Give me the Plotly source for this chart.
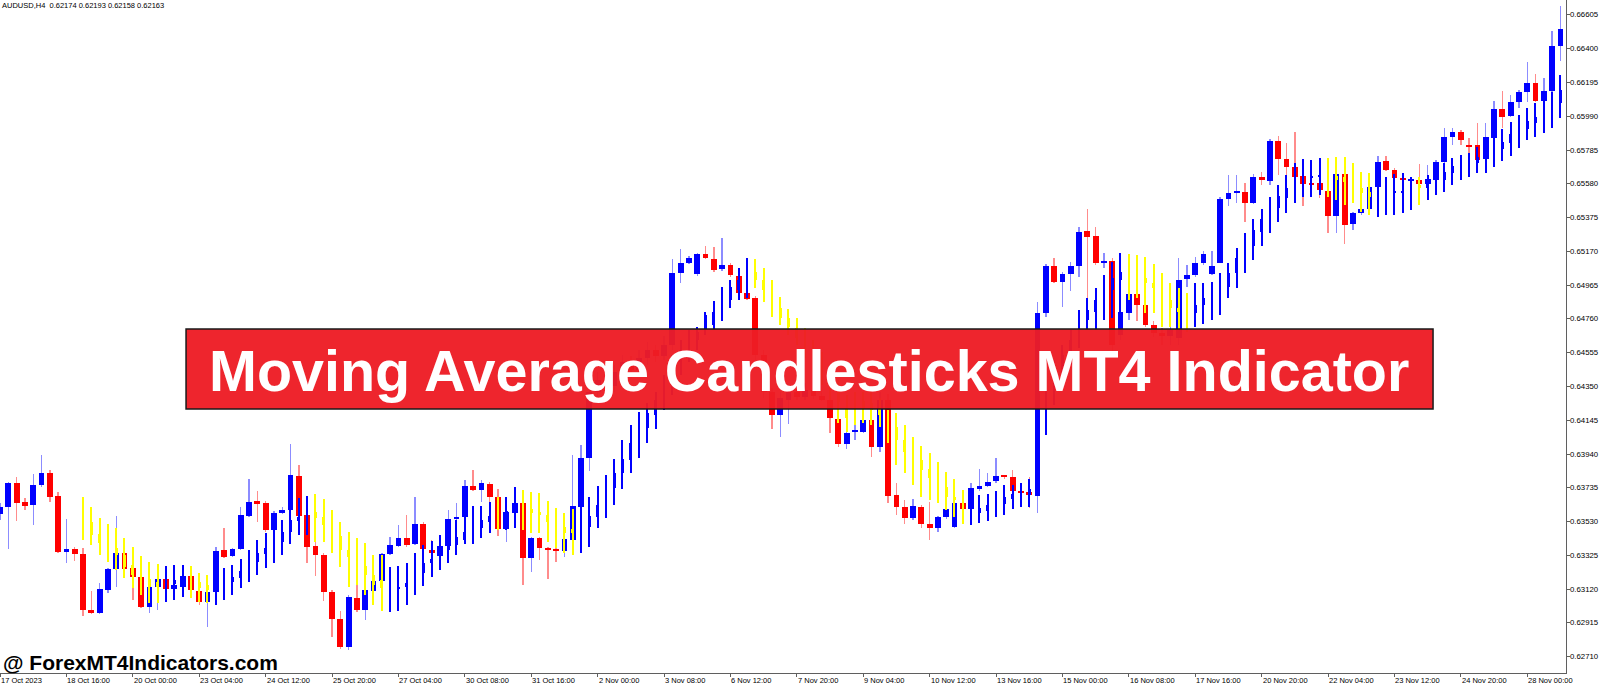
import plotly.graph_objects as go

# AUDUSD H4, one value per bar (bar index 0 = left edge of the chart)
price_open = [
    0.63576, 0.63619, 0.63765, 0.63649, 0.63631, 0.63753, 0.63825, 0.63686, 0.63346, 0.63364,
    0.63334, 0.62993, 0.62975, 0.63115, 0.63243, 0.63340, 0.63249, 0.63194, 0.63012, 0.63133,
    0.63182, 0.63121, 0.63133, 0.63200, 0.63109, 0.63042, 0.63103, 0.63358, 0.63321, 0.63364,
    0.63564, 0.63655, 0.63643, 0.63479, 0.63582, 0.63600, 0.63807, 0.63570, 0.63382, 0.63328,
    0.63103, 0.62939, 0.62769, 0.63067, 0.62993, 0.63109, 0.63170, 0.63334, 0.63382, 0.63430,
    0.63394, 0.63515, 0.63358, 0.63321, 0.63382, 0.63546, 0.63558, 0.63747, 0.63722, 0.63759,
    0.63680, 0.63485, 0.63582, 0.63643, 0.63309, 0.63430, 0.63370, 0.63364, 0.63352, 0.63418,
    0.63619, 0.63916, 0.64317, 0.64390, 0.64353, 0.64438, 0.64499, 0.64450, 0.64523, 0.64572,
    0.64536, 0.64602, 0.65039, 0.65100, 0.65033, 0.65155, 0.65124, 0.65064, 0.65088, 0.65021,
    0.64918, 0.64887, 0.64542, 0.64317, 0.64177, 0.64268, 0.64317, 0.64287, 0.64329, 0.64293,
    0.64268, 0.64153, 0.64001, 0.64074, 0.64074, 0.64147, 0.63983, 0.64268, 0.63692, 0.63619,
    0.63552, 0.63619, 0.63515, 0.63491, 0.63558, 0.63497, 0.63643, 0.63606, 0.63728, 0.63747,
    0.63777, 0.63807, 0.63801, 0.63716, 0.63710, 0.63686, 0.64796, 0.65082, 0.64985, 0.65033,
    0.65082, 0.65294, 0.65264, 0.65100, 0.65112, 0.64663, 0.64796, 0.64912, 0.64845, 0.64723,
    0.64675, 0.64656, 0.64644, 0.65003, 0.65027, 0.65100, 0.65033, 0.65100, 0.65489, 0.65525,
    0.65531, 0.65464, 0.65622, 0.65597, 0.65840, 0.65731, 0.65683, 0.65628, 0.65586, 0.65586,
    0.65537, 0.65385, 0.65640, 0.65336, 0.65403, 0.65427, 0.65561, 0.65719, 0.65664, 0.65616,
    0.65597, 0.65603, 0.65580, 0.65603, 0.65713, 0.65865, 0.65895, 0.65816, 0.65816, 0.65731,
    0.65858, 0.66034, 0.65992, 0.66077, 0.66139, 0.66194, 0.66083, 0.66145, 0.66418,
]
price_high = [
    0.63643, 0.63771, 0.63801, 0.63674, 0.63819, 0.63935, 0.63844, 0.63710, 0.63546, 0.63376,
    0.63370, 0.63109, 0.63158, 0.63249, 0.63564, 0.63346, 0.63267, 0.63206, 0.63146, 0.63188,
    0.63194, 0.63158, 0.63267, 0.63261, 0.63127, 0.63115, 0.63376, 0.63491, 0.63370, 0.63619,
    0.63789, 0.63716, 0.63655, 0.63594, 0.63619, 0.64001, 0.63874, 0.63582, 0.63436, 0.63340,
    0.63115, 0.62987, 0.63085, 0.63146, 0.63127, 0.63182, 0.63340, 0.63436, 0.63509, 0.63570,
    0.63680, 0.63527, 0.63418, 0.63449, 0.63600, 0.63643, 0.63783, 0.63844, 0.63783, 0.63771,
    0.63728, 0.63661, 0.63740, 0.63722, 0.63436, 0.63436, 0.63376, 0.63370, 0.63430, 0.63935,
    0.63995, 0.64360, 0.64438, 0.64450, 0.64481, 0.64542, 0.64536, 0.64572, 0.64620, 0.64602,
    0.64656, 0.65124, 0.65185, 0.65143, 0.65161, 0.65203, 0.65197, 0.65252, 0.65100, 0.65039,
    0.64930, 0.64899, 0.64572, 0.64341, 0.64317, 0.64360, 0.64353, 0.64372, 0.64390, 0.64329,
    0.64299, 0.64207, 0.64074, 0.64147, 0.64207, 0.64207, 0.64317, 0.64305, 0.63765, 0.63661,
    0.63667, 0.63631, 0.63649, 0.63564, 0.63619, 0.63649, 0.63692, 0.63765, 0.63850, 0.63825,
    0.63916, 0.63813, 0.63844, 0.63765, 0.63801, 0.64863, 0.65094, 0.65130, 0.65045, 0.65106,
    0.65318, 0.65427, 0.65318, 0.65161, 0.65130, 0.64845, 0.64924, 0.64924, 0.64851, 0.64748,
    0.64705, 0.64748, 0.65130, 0.65088, 0.65136, 0.65173, 0.65173, 0.65501, 0.65634, 0.65634,
    0.65586, 0.65640, 0.65652, 0.65852, 0.65870, 0.65828, 0.65895, 0.65646, 0.65592, 0.65592,
    0.65543, 0.65737, 0.65646, 0.65409, 0.65433, 0.65574, 0.65749, 0.65749, 0.65677, 0.65628,
    0.65616, 0.65701, 0.65695, 0.65725, 0.65919, 0.65919, 0.65907, 0.65858, 0.65949, 0.65949,
    0.66083, 0.66145, 0.66121, 0.66152, 0.66321, 0.66248, 0.66224, 0.66508, 0.66660,
]
price_low = [
    0.63540, 0.63364, 0.63534, 0.63600, 0.63509, 0.63740, 0.63649, 0.63340, 0.63279, 0.63291,
    0.62957, 0.62969, 0.62969, 0.63097, 0.63133, 0.63194, 0.63054, 0.63005, 0.62975, 0.62993,
    0.63115, 0.63061, 0.63073, 0.63067, 0.63024, 0.62890, 0.63024, 0.63309, 0.63315, 0.63358,
    0.63558, 0.63527, 0.63467, 0.63467, 0.63576, 0.63594, 0.63558, 0.63279, 0.63200, 0.63048,
    0.62829, 0.62757, 0.62751, 0.62981, 0.62933, 0.63097, 0.63152, 0.63328, 0.63376, 0.63376,
    0.63388, 0.63358, 0.63194, 0.63237, 0.63340, 0.63376, 0.63540, 0.63716, 0.63649, 0.63643,
    0.63442, 0.63406, 0.63491, 0.63146, 0.63224, 0.63297, 0.63182, 0.63285, 0.63315, 0.63370,
    0.63600, 0.63838, 0.64281, 0.64299, 0.64317, 0.64390, 0.64402, 0.64420, 0.64481, 0.64499,
    0.64511, 0.64572, 0.64979, 0.65094, 0.65021, 0.65124, 0.65045, 0.65051, 0.65015, 0.64875,
    0.64875, 0.64511, 0.64281, 0.64092, 0.64043, 0.64122, 0.64268, 0.64268, 0.64275, 0.64262,
    0.64068, 0.63983, 0.63971, 0.64025, 0.64068, 0.63923, 0.63953, 0.63643, 0.63570, 0.63515,
    0.63540, 0.63491, 0.63418, 0.63467, 0.63546, 0.63491, 0.63594, 0.63594, 0.63716, 0.63740,
    0.63765, 0.63789, 0.63710, 0.63692, 0.63612, 0.63582, 0.64772, 0.64979, 0.64833, 0.64930,
    0.65015, 0.64857, 0.65088, 0.65070, 0.64560, 0.64632, 0.64754, 0.64748, 0.64711, 0.64651,
    0.64602, 0.64602, 0.64602, 0.64954, 0.65015, 0.65088, 0.65027, 0.65100, 0.65446, 0.65464,
    0.65348, 0.65458, 0.65574, 0.65574, 0.65634, 0.65622, 0.65555, 0.65446, 0.65507, 0.65495,
    0.65282, 0.65282, 0.65215, 0.65300, 0.65391, 0.65415, 0.65555, 0.65658, 0.65603, 0.65592,
    0.65592, 0.65555, 0.65574, 0.65597, 0.65707, 0.65816, 0.65816, 0.65743, 0.65664, 0.65670,
    0.65852, 0.65919, 0.65986, 0.66040, 0.66077, 0.66077, 0.66077, 0.66139, 0.66327,
]
price_close = [
    0.63619, 0.63765, 0.63643, 0.63625, 0.63753, 0.63825, 0.63680, 0.63346, 0.63364, 0.63334,
    0.62993, 0.62981, 0.63121, 0.63243, 0.63340, 0.63243, 0.63194, 0.63012, 0.63133, 0.63182,
    0.63121, 0.63146, 0.63200, 0.63115, 0.63042, 0.63103, 0.63352, 0.63315, 0.63364, 0.63570,
    0.63649, 0.63637, 0.63479, 0.63582, 0.63600, 0.63813, 0.63564, 0.63376, 0.63328, 0.63103,
    0.62939, 0.62769, 0.63073, 0.62993, 0.63115, 0.63170, 0.63334, 0.63388, 0.63430, 0.63388,
    0.63515, 0.63364, 0.63340, 0.63382, 0.63546, 0.63558, 0.63747, 0.63722, 0.63765, 0.63680,
    0.63485, 0.63588, 0.63643, 0.63309, 0.63430, 0.63370, 0.63358, 0.63352, 0.63424, 0.63625,
    0.63916, 0.64317, 0.64390, 0.64353, 0.64438, 0.64499, 0.64450, 0.64523, 0.64572, 0.64536,
    0.64602, 0.65039, 0.65100, 0.65130, 0.65155, 0.65130, 0.65057, 0.65088, 0.65027, 0.64918,
    0.64881, 0.64542, 0.64317, 0.64177, 0.64281, 0.64317, 0.64287, 0.64329, 0.64293, 0.64268,
    0.64159, 0.64001, 0.64068, 0.64080, 0.64147, 0.63983, 0.64268, 0.63686, 0.63619, 0.63552,
    0.63625, 0.63515, 0.63491, 0.63558, 0.63606, 0.63643, 0.63606, 0.63734, 0.63747, 0.63771,
    0.63807, 0.63801, 0.63716, 0.63704, 0.63692, 0.64796, 0.65082, 0.64985, 0.65033, 0.65082,
    0.65288, 0.65258, 0.65100, 0.65112, 0.64602, 0.64802, 0.64912, 0.64845, 0.64723, 0.64675,
    0.64656, 0.64693, 0.64996, 0.65027, 0.65100, 0.65155, 0.65082, 0.65489, 0.65525, 0.65531,
    0.65464, 0.65622, 0.65603, 0.65840, 0.65731, 0.65683, 0.65622, 0.65580, 0.65574, 0.65543,
    0.65385, 0.65640, 0.65330, 0.65403, 0.65427, 0.65561, 0.65713, 0.65664, 0.65616, 0.65603,
    0.65610, 0.65580, 0.65610, 0.65713, 0.65865, 0.65895, 0.65846, 0.65804, 0.65725, 0.65865,
    0.66034, 0.65986, 0.66077, 0.66139, 0.66194, 0.66083, 0.66145, 0.66418, 0.66520,
]

# Moving Average Candlesticks indicator (thin bars), not drawn on the first ten bars
ma_open = [None] * 10 + [
    0.63600, 0.63527, 0.63455, 0.63406, 0.63370, 0.63328, 0.63267, 0.63218, 0.63182, 0.63164,
    0.63140, 0.63152, 0.63164, 0.63188, 0.63164, 0.63146, 0.63115, 0.63133, 0.63164, 0.63188,
    0.63230, 0.63285, 0.63334, 0.63364, 0.63406, 0.63467, 0.63534, 0.63540, 0.63588, 0.63558,
    0.63515, 0.63442, 0.63358, 0.63315, 0.63261, 0.63206, 0.63176, 0.63115, 0.63121, 0.63133,
    0.63158, 0.63218, 0.63279, 0.63297, 0.63358, 0.63388, 0.63418, 0.63461, 0.63491, 0.63527,
    0.63588, 0.63558, 0.63582, 0.63612, 0.63606, 0.63588, 0.63570, 0.63534, 0.63497, 0.63485,
    0.63455, 0.63497, 0.63558, 0.63674, 0.63734, 0.63825, 0.63904, 0.64007, 0.64098, 0.64177,
    0.64256, 0.64360, 0.64499, 0.64572, 0.64632, 0.64693, 0.64723, 0.64796, 0.64875, 0.64936,
    0.64996, 0.65045, 0.64996, 0.64924, 0.64826, 0.64766, 0.64705, 0.64644, 0.64572, 0.64499,
    0.64420, 0.64317, 0.64220, 0.64256, 0.64262, 0.64250, 0.64220, 0.64165, 0.64104, 0.64025,
    0.63965, 0.63904, 0.63850, 0.63795, 0.63740, 0.63680, 0.63649, 0.63576, 0.63582, 0.63594,
    0.63612, 0.63637, 0.63667, 0.63680, 0.63692, 0.63874, 0.64116, 0.64299, 0.64420, 0.64542,
    0.64632, 0.64754, 0.64802, 0.64845, 0.64936, 0.64996, 0.65045, 0.65027, 0.65009, 0.64979,
    0.64948, 0.64875, 0.64826, 0.64802, 0.64796, 0.64845, 0.64863, 0.64893, 0.64954, 0.65039,
    0.65118, 0.65203, 0.65288, 0.65348, 0.65433, 0.65495, 0.65561, 0.65616, 0.65616, 0.65622,
    0.65634, 0.65628, 0.65622, 0.65591, 0.65555, 0.65531, 0.65507, 0.65513, 0.65525, 0.65525,
    0.65531, 0.65574, 0.65555, 0.65574, 0.65603, 0.65646, 0.65683, 0.65695, 0.65707, 0.65731,
    0.65755, 0.65792, 0.65828, 0.65877, 0.65913, 0.65950, 0.65974, 0.66004, 0.66071,
]
ma_high = [None] * 10 + [
    0.63680, 0.63619, 0.63552, 0.63515, 0.63491, 0.63430, 0.63376, 0.63321, 0.63285, 0.63273,
    0.63261, 0.63267, 0.63267, 0.63261, 0.63218, 0.63206, 0.63297, 0.63249, 0.63267, 0.63303,
    0.63358, 0.63418, 0.63461, 0.63479, 0.63540, 0.63600, 0.63674, 0.63686, 0.63698, 0.63667,
    0.63600, 0.63527, 0.63467, 0.63430, 0.63400, 0.63328, 0.63328, 0.63255, 0.63261, 0.63279,
    0.63340, 0.63388, 0.63412, 0.63449, 0.63467, 0.63540, 0.63558, 0.63625, 0.63625, 0.63649,
    0.63680, 0.63680, 0.63740, 0.63722, 0.63710, 0.63704, 0.63655, 0.63612, 0.63582, 0.63606,
    0.63680, 0.63680, 0.63747, 0.63813, 0.63910, 0.64025, 0.64116, 0.64195, 0.64250, 0.64317,
    0.64420, 0.64542, 0.64632, 0.64693, 0.64711, 0.64802, 0.64869, 0.64954, 0.64996, 0.65070,
    0.65130, 0.65124, 0.65070, 0.64996, 0.64893, 0.64820, 0.64766, 0.64705, 0.64632, 0.64560,
    0.64481, 0.64390, 0.64299, 0.64317, 0.64317, 0.64317, 0.64281, 0.64207, 0.64189, 0.64116,
    0.64043, 0.63989, 0.63947, 0.63892, 0.63831, 0.63789, 0.63722, 0.63667, 0.63692, 0.63698,
    0.63716, 0.63753, 0.63753, 0.63765, 0.63789, 0.64116, 0.64329, 0.64511, 0.64602, 0.64693,
    0.64814, 0.64887, 0.64948, 0.65027, 0.65106, 0.65161, 0.65155, 0.65149, 0.65136, 0.65094,
    0.65039, 0.64979, 0.64948, 0.64918, 0.64979, 0.64979, 0.64985, 0.65039, 0.65100, 0.65191,
    0.65282, 0.65367, 0.65427, 0.65501, 0.65574, 0.65634, 0.65707, 0.65731, 0.65725, 0.65737,
    0.65737, 0.65743, 0.65743, 0.65707, 0.65652, 0.65646, 0.65622, 0.65622, 0.65640, 0.65646,
    0.65622, 0.65622, 0.65634, 0.65664, 0.65707, 0.65737, 0.65755, 0.65767, 0.65804, 0.65834,
    0.65913, 0.65913, 0.65956, 0.65998, 0.66040, 0.66071, 0.66089, 0.66139, 0.66241,
]
ma_low = [None] * 10 + [
    0.63418, 0.63388, 0.63328, 0.63285, 0.63237, 0.63188, 0.63127, 0.63085, 0.63036, 0.63036,
    0.63042, 0.63054, 0.63073, 0.63067, 0.63042, 0.63036, 0.63024, 0.63054, 0.63085, 0.63127,
    0.63164, 0.63206, 0.63249, 0.63279, 0.63328, 0.63394, 0.63449, 0.63449, 0.63406, 0.63406,
    0.63340, 0.63255, 0.63133, 0.63146, 0.63085, 0.63024, 0.62987, 0.62981, 0.62987, 0.63024,
    0.63085, 0.63140, 0.63194, 0.63237, 0.63279, 0.63328, 0.63394, 0.63394, 0.63430, 0.63461,
    0.63479, 0.63479, 0.63491, 0.63479, 0.63461, 0.63461, 0.63406, 0.63370, 0.63340, 0.63328,
    0.63340, 0.63376, 0.63491, 0.63552, 0.63631, 0.63728, 0.63825, 0.63916, 0.64007, 0.64092,
    0.64207, 0.64299, 0.64420, 0.64499, 0.64572, 0.64663, 0.64693, 0.64748, 0.64826, 0.64875,
    0.64887, 0.64948, 0.64863, 0.64772, 0.64723, 0.64663, 0.64602, 0.64523, 0.64438, 0.64360,
    0.64268, 0.64128, 0.64074, 0.64116, 0.64128, 0.64116, 0.64104, 0.64007, 0.63874, 0.63825,
    0.63753, 0.63680, 0.63661, 0.63643, 0.63600, 0.63558, 0.63515, 0.63509, 0.63521, 0.63534,
    0.63558, 0.63570, 0.63606, 0.63619, 0.63619, 0.63783, 0.64055, 0.64238, 0.64360, 0.64481,
    0.64584, 0.64693, 0.64693, 0.64754, 0.64766, 0.64754, 0.64875, 0.64887, 0.64796, 0.64796,
    0.64711, 0.64711, 0.64693, 0.64681, 0.64711, 0.64729, 0.64754, 0.64784, 0.64887, 0.64948,
    0.65039, 0.65118, 0.65203, 0.65282, 0.65348, 0.65403, 0.65464, 0.65501, 0.65501, 0.65513,
    0.65501, 0.65482, 0.65452, 0.65464, 0.65409, 0.65391, 0.65379, 0.65391, 0.65391, 0.65403,
    0.65421, 0.65452, 0.65482, 0.65513, 0.65531, 0.65574, 0.65603, 0.65622, 0.65646, 0.65646,
    0.65683, 0.65719, 0.65749, 0.65798, 0.65846, 0.65865, 0.65889, 0.65919, 0.65980,
]
ma_close = [None] * 10 + [
    0.63527, 0.63449, 0.63400, 0.63358, 0.63328, 0.63255, 0.63206, 0.63158, 0.63133, 0.63133,
    0.63164, 0.63176, 0.63194, 0.63164, 0.63127, 0.63115, 0.63158, 0.63176, 0.63194, 0.63230,
    0.63285, 0.63340, 0.63370, 0.63412, 0.63467, 0.63540, 0.63558, 0.63600, 0.63552, 0.63509,
    0.63436, 0.63358, 0.63315, 0.63255, 0.63206, 0.63146, 0.63127, 0.63127, 0.63133, 0.63158,
    0.63218, 0.63279, 0.63303, 0.63340, 0.63400, 0.63436, 0.63467, 0.63503, 0.63540, 0.63564,
    0.63558, 0.63594, 0.63612, 0.63588, 0.63582, 0.63570, 0.63527, 0.63497, 0.63461, 0.63461,
    0.63503, 0.63564, 0.63631, 0.63734, 0.63825, 0.63910, 0.64007, 0.64098, 0.64189, 0.64268,
    0.64360, 0.64481, 0.64572, 0.64644, 0.64681, 0.64784, 0.64802, 0.64887, 0.64954, 0.64996,
    0.65045, 0.64996, 0.64936, 0.64863, 0.64766, 0.64711, 0.64644, 0.64572, 0.64499, 0.64420,
    0.64341, 0.64256, 0.64159, 0.64213, 0.64220, 0.64207, 0.64177, 0.64068, 0.64025, 0.63953,
    0.63886, 0.63844, 0.63795, 0.63740, 0.63680, 0.63661, 0.63631, 0.63594, 0.63612, 0.63631,
    0.63643, 0.63680, 0.63698, 0.63710, 0.63728, 0.64025, 0.64268, 0.64420, 0.64542, 0.64632,
    0.64742, 0.64814, 0.64875, 0.64948, 0.65009, 0.65045, 0.65015, 0.65009, 0.64979, 0.64948,
    0.64875, 0.64826, 0.64802, 0.64778, 0.64845, 0.64887, 0.64899, 0.64960, 0.65039, 0.65130,
    0.65203, 0.65300, 0.65367, 0.65440, 0.65507, 0.65555, 0.65610, 0.65622, 0.65628, 0.65634,
    0.65622, 0.65603, 0.65591, 0.65555, 0.65525, 0.65501, 0.65525, 0.65525, 0.65531, 0.65537,
    0.65561, 0.65555, 0.65591, 0.65603, 0.65652, 0.65689, 0.65707, 0.65713, 0.65743, 0.65767,
    0.65798, 0.65834, 0.65883, 0.65925, 0.65962, 0.65986, 0.66010, 0.66071, 0.66150,
]

# time axis: one label every 8 bars, starting at bar 0
time_labels = [
    "17 Oct 2023", "18 Oct 16:00", "20 Oct 00:00", "23 Oct 04:00", "24 Oct 12:00",
    "25 Oct 20:00", "27 Oct 04:00", "30 Oct 08:00", "31 Oct 16:00", "2 Nov 00:00",
    "3 Nov 08:00", "6 Nov 12:00", "7 Nov 20:00", "9 Nov 04:00", "10 Nov 12:00",
    "13 Nov 16:00", "15 Nov 00:00", "16 Nov 08:00", "17 Nov 16:00", "20 Nov 20:00",
    "22 Nov 04:00", "23 Nov 12:00", "24 Nov 20:00", "28 Nov 00:00",
]
label_step = 8
price_ticks = [
    0.62710, 0.62915, 0.63120, 0.63325, 0.63530, 0.63735, 0.63940, 0.64145, 0.64350, 0.64555,
    0.64760, 0.64965, 0.65170, 0.65375, 0.65580, 0.65785, 0.65990, 0.66195, 0.66400, 0.66605,
]

header = "AUDUSD,H4\u00a0\u00a00.62174 0.62193 0.62158 0.62163"
banner_text = "Moving Average Candlesticks MT4 Indicator"
watermark = "@ ForexMT4Indicators.com"

BULL = "#0000FF"
BEAR = "#FF0000"
BULL_WICK = "rgba(0,0,255,0.45)"
BEAR_WICK = "rgba(255,0,0,0.45)"
MA_UP = "#0000FF"
MA_DOWN = "#FFFF00"
AXIS = "#5f5f5f"
FONT = "Liberation Sans, Arial, sans-serif"
MIN_BODY = 0.00005

n = len(price_open)
idx = list(range(n))


def spans(lo, hi, min_h=0.0):
    base, height = [], []
    for a, b in zip(lo, hi):
        if a is None:
            base.append(None)
            height.append(None)
            continue
        low, top = min(a, b), max(a, b)
        base.append(low)
        height.append(max(top - low, min_h))
    return base, height


p_up = [c >= o for o, c in zip(price_open, price_close)]
m_up = [c is not None and c >= o for o, c in zip(ma_open, ma_close)]

wick_b, wick_h = spans(price_low, price_high)
body_b, body_h = spans(price_open, price_close, MIN_BODY)
mwick_b, mwick_h = spans(ma_low, ma_high)
mbody_b, mbody_h = spans(ma_open, ma_close, MIN_BODY)

fig = go.Figure()
fig.add_trace(go.Bar(
    x=idx, y=wick_h, base=wick_b, width=0.17,
    marker=dict(color=[BULL_WICK if u else BEAR_WICK for u in p_up], line=dict(width=0)),
    hoverinfo="skip",
))
fig.add_trace(go.Bar(
    x=idx, y=body_h, base=body_b, width=0.7,
    marker=dict(color=[BULL if u else BEAR for u in p_up], line=dict(width=0)),
    hoverinfo="skip",
))
fig.add_trace(go.Bar(
    x=idx, y=mwick_h, base=mwick_b, width=0.14,
    marker=dict(color=[MA_UP if u else MA_DOWN for u in m_up], line=dict(width=0)),
    hoverinfo="skip",
))
fig.add_trace(go.Bar(
    x=idx, y=mbody_h, base=mbody_b, width=0.32,
    marker=dict(color=[MA_UP if u else MA_DOWN for u in m_up], line=dict(width=0)),
    hoverinfo="skip",
))

label_pos = [i * label_step for i in range(len(time_labels))]
small = dict(family=FONT, size=7.5, color="black")
annotations = [
    dict(x=p, y=0, xref="x", yref="paper", text=t, showarrow=False,
         xanchor="left", yanchor="top", yshift=-2, borderpad=0, font=small)
    for p, t in zip(label_pos, time_labels)
]
annotations += [
    dict(x=1, y=v, xref="paper", yref="y", text=f"{v:.5f}", showarrow=False,
         xanchor="left", yanchor="middle", xshift=3, borderpad=0,
         font=dict(family=FONT, size=7.8, color="black"))
    for v in price_ticks
]
annotations += [
    dict(x=0, y=1, xref="paper", yref="paper", text=header, showarrow=False,
         xanchor="left", yanchor="top", xshift=1, borderpad=0, font=small),
    dict(x=0, y=0, xref="paper", yref="paper", text="<b>" + watermark + "</b>",
         showarrow=False, xanchor="left", yanchor="bottom", xshift=2, yshift=-2,
         borderpad=0, font=dict(family=FONT, size=21, color="black")),
    dict(x=0.5169, y=0.4487, xref="paper", yref="paper", text="<b>" + banner_text + "</b>",
         showarrow=False, xanchor="center", yanchor="middle",
         font=dict(family=FONT, size=57.5, color="white")),
]

fig.update_layout(
    template="none",
    width=1600,
    height=686,
    margin=dict(l=0, r=34, t=0, b=13, pad=0, autoexpand=False),
    paper_bgcolor="white",
    plot_bgcolor="white",
    barmode="overlay",
    bargap=0,
    showlegend=False,
    hovermode=False,
    xaxis=dict(
        range=[0, 188.67],
        showgrid=False, zeroline=False, automargin=False,
        showline=True, linecolor=AXIS, linewidth=1,
        tickmode="array", tickvals=label_pos,
        ticks="outside", ticklen=3, tickcolor=AXIS,
        showticklabels=False, fixedrange=True,
    ),
    yaxis=dict(
        side="right",
        range=[0.62611, 0.66696],
        showgrid=False, zeroline=False, automargin=False,
        showline=True, linecolor=AXIS, linewidth=1,
        tickmode="array", tickvals=price_ticks,
        ticks="outside", ticklen=3, tickcolor=AXIS,
        showticklabels=False, fixedrange=True,
    ),
    shapes=[dict(
        type="rect", xref="paper", yref="paper",
        x0=0.1188, x1=0.9151, y0=0.3923, y1=0.5111,
        fillcolor="rgba(237,28,36,0.96)",
        line=dict(color="#1a1a1a", width=1.5),
        layer="above",
    )],
    annotations=annotations,
)

# the page's default body margin would shift the 1600x686 figure out of the window
fig.write_html(
    "out.html",
    config={"displayModeBar": False, "responsive": False},
    post_script="document.body.style.margin='0';document.body.style.overflow='hidden';",
)
